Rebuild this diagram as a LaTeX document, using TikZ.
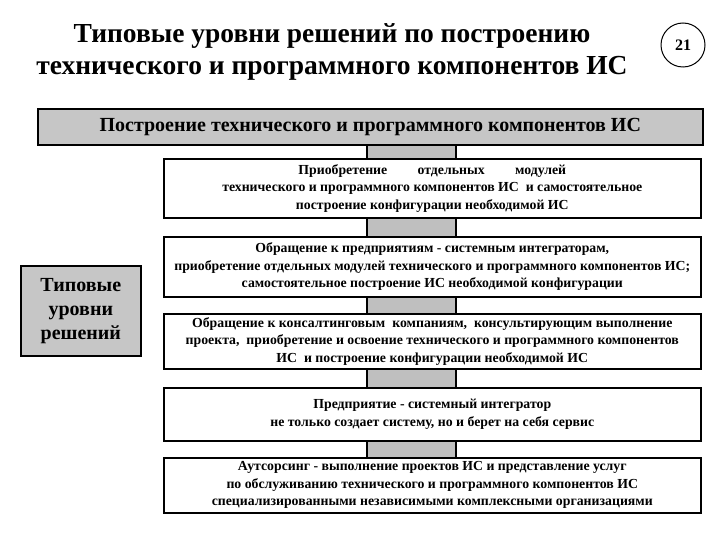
\documentclass[tikz,border=0pt]{standalone}
\usepackage{fontspec}
\setmainfont{Liberation Serif}
\begin{document}
\begin{tikzpicture}[x=1pt,y=-1pt,
  lvl/.style={draw=black,line width=1.6pt,fill=white,align=center,font=\bfseries\fontsize{13.8}{17.5}\selectfont,inner sep=1pt},
  graybox/.style={draw=black,line width=1.6pt,fill=gray!45}]
\useasboundingbox (0,0) rectangle (720,540);
\fill[white] (0,0) rectangle (720,540);
\node[font=\bfseries\fontsize{27.5}{32}\selectfont,align=center] (title) at (332,52) {Типовые уровни решений по построению\\технического и программного компонентов ИС};
\node[draw,circle,line width=1pt,minimum size=44pt,font=\bfseries\fontsize{16}{18}\selectfont] (num) at (683,45) {21};
\fill[gray!50] (367,145) rectangle (456,457);
\draw[line width=1.2pt] (367,145) -- (367,457) (456,145) -- (456,457);
\node[graybox,minimum width=665pt,minimum height=36pt,anchor=north west,font=\bfseries\fontsize{20}{23}\selectfont] (top) at (37,108) {Построение технического и программного компонентов ИС};
\node[lvl,anchor=north west,minimum width=537pt,minimum height=59pt] (b1) at (163,158) {Приобретение\hspace{2.2em}отдельных\hspace{2.2em}модулей\\технического и программного компонентов ИС\ \ и самостоятельное\\построение конфигурации необходимой ИС};
\node[lvl,anchor=north west,minimum width=537pt,minimum height=60pt] (b2) at (163,236) {Обращение к предприятиям - системным интеграторам,\\приобретение отдельных модулей технического и программного компонентов ИС;\\самостоятельное построение ИС необходимой конфигурации};
\node[lvl,anchor=north west,minimum width=537pt,minimum height=55pt] (b3) at (163,313) {Обращение к консалтинговым\ \ компаниям,\ \ консультирующим выполнение\\проекта,\ \ приобретение и освоение технического и программного компонентов\\ИС\ \ и построение конфигурации необходимой ИС};
\node[lvl,anchor=north west,minimum width=537pt,minimum height=53pt] (b4) at (163,387) {Предприятие - системный интегратор\\не только создает систему, но и берет на себя сервис};
\node[lvl,anchor=north west,minimum width=537pt,minimum height=55pt] (b5) at (163,457) {Аутсорсинг - выполнение проектов ИС и представление услуг\\по обслуживанию технического и программного компонентов ИС\\специализированными независимыми комплексными организациями};
\node[graybox,anchor=north west,minimum width=120pt,minimum height=90pt,align=center,font=\bfseries\fontsize{20}{24}\selectfont] (left) at (20,265) {Типовые\\уровни\\решений};
\end{tikzpicture}
\end{document}
